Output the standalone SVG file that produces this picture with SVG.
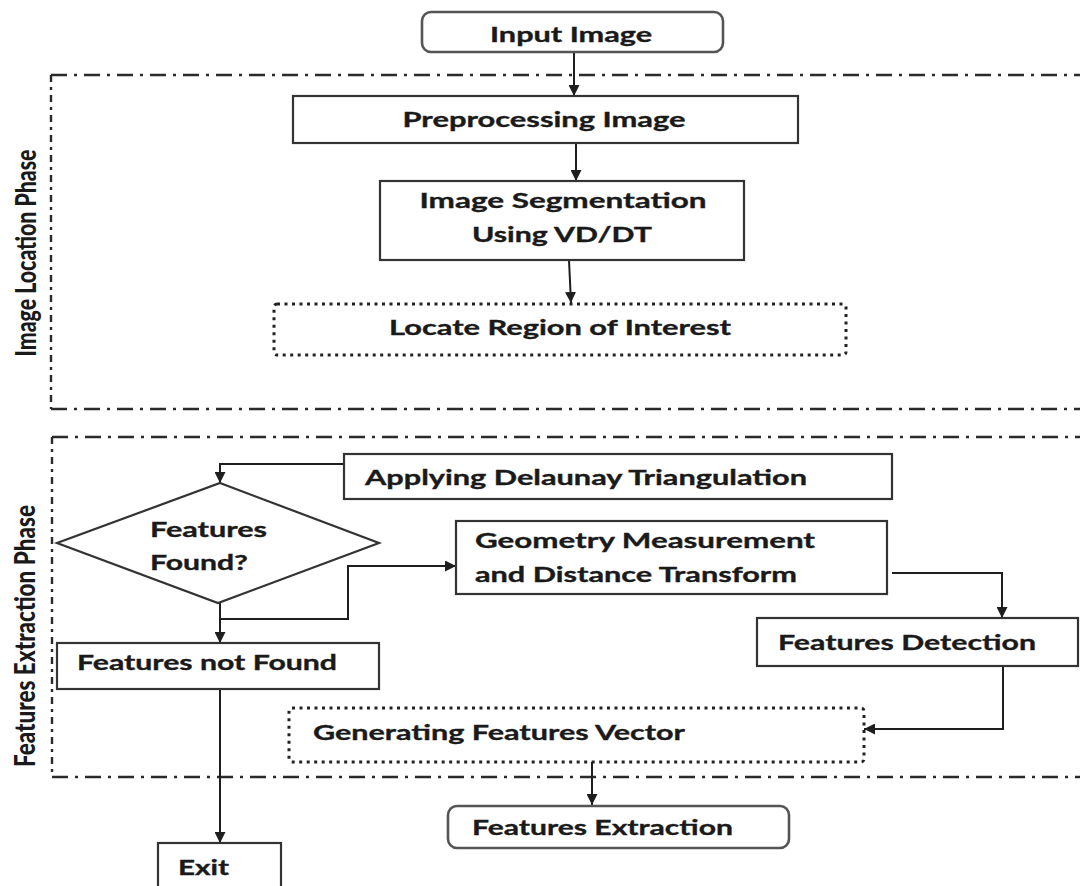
<svg xmlns="http://www.w3.org/2000/svg" width="1080" height="886" viewBox="0 0 1080 886">
  <defs>
    <marker id="arrow" viewBox="0 0 10 10" refX="10" refY="5" markerWidth="11" markerHeight="11" markerUnits="userSpaceOnUse" orient="auto">
      <path d="M0,0 L10,5 L0,10 Z" fill="#1e1e1e"/>
    </marker>
    <style>
      .lbl { font-family: Lato, "Open Sans", "Liberation Sans", sans-serif; font-weight: bold; font-size: 21px; fill: #1a1a1a; stroke: #1a1a1a; stroke-width: 0.35; }
      .phase { font-family: Lato, "Liberation Sans", sans-serif; font-weight: 900; font-size: 28px; fill: #1a1a1a; }
      .box { fill: #ffffff; stroke: #333333; stroke-width: 2.2; }
      .term { fill: #ffffff; stroke: #555555; stroke-width: 2.6; }
      .dotted { fill: #ffffff; stroke: #222222; stroke-width: 3; stroke-dasharray: 3 4.5; }
      .frame-h { fill: none; stroke: #2a2a2a; stroke-width: 2.4; stroke-dasharray: 16 7 3 7; }
      .frame-v { fill: none; stroke: #2a2a2a; stroke-width: 2.4; stroke-dasharray: 7 5 3 5; }
      .conn { fill: none; stroke: #1e1e1e; stroke-width: 2; }
    </style>
  </defs>
  <rect width="1080" height="886" fill="#ffffff"/>

  <!-- phase frames -->
  <g id="phase-location">
    <line class="frame-h" x1="51" y1="75" x2="1080" y2="75"/>
    <line class="frame-h" x1="51" y1="409" x2="1080" y2="409"/>
    <line class="frame-v" x1="51" y1="75" x2="51" y2="409"/>
    <text class="phase" transform="translate(36,253) rotate(-90)" text-anchor="middle" textLength="207" lengthAdjust="spacingAndGlyphs">Image Location Phase</text>
  </g>
  <g id="phase-extraction">
    <line class="frame-h" x1="52" y1="437" x2="1080" y2="437"/>
    <line class="frame-h" x1="52" y1="777" x2="1080" y2="777"/>
    <line class="frame-v" x1="52" y1="437" x2="52" y2="777"/>
    <text class="phase" transform="translate(35,636) rotate(-90)" text-anchor="middle" textLength="262" lengthAdjust="spacingAndGlyphs">Features Extraction Phase</text>
  </g>

  <!-- connectors -->
  <g id="connectors">
    <line class="conn" x1="574" y1="52" x2="574" y2="96" marker-end="url(#arrow)"/>
    <line class="conn" x1="576" y1="143" x2="576" y2="181" marker-end="url(#arrow)"/>
    <line class="conn" x1="569" y1="260" x2="571" y2="303" marker-end="url(#arrow)"/>
    <polyline class="conn" points="344,464 220,464 220,483" marker-end="url(#arrow)"/>
    <line class="conn" x1="220" y1="603" x2="220" y2="643" marker-end="url(#arrow)"/>
    <polyline class="conn" points="220,619 348,619 348,566 456,566" marker-end="url(#arrow)"/>
    <polyline class="conn" points="892,573 1002,573 1002,618" marker-end="url(#arrow)"/>
    <polyline class="conn" points="1003,667 1003,729 864,729" marker-end="url(#arrow)"/>
    <line class="conn" x1="592" y1="762" x2="592" y2="805" marker-end="url(#arrow)"/>
    <line class="conn" x1="220" y1="689" x2="220" y2="843" marker-end="url(#arrow)"/>
  </g>

  <!-- nodes -->
  <g id="input-image">
    <rect class="term" x="422" y="12" width="301" height="40" rx="9"/>
    <text class="lbl" x="571" y="42" text-anchor="middle" textLength="162" lengthAdjust="spacingAndGlyphs">Input Image</text>
  </g>
  <g id="preprocessing">
    <rect class="box" x="293" y="96" width="505" height="47"/>
    <text class="lbl" x="544" y="127" text-anchor="middle" textLength="283" lengthAdjust="spacingAndGlyphs">Preprocessing Image</text>
  </g>
  <g id="segmentation">
    <rect class="box" x="380" y="181" width="364" height="79"/>
    <text class="lbl" x="563" y="208" text-anchor="middle" textLength="287" lengthAdjust="spacingAndGlyphs">Image Segmentation</text>
    <text class="lbl" x="562" y="242" text-anchor="middle" textLength="180" lengthAdjust="spacingAndGlyphs">Using VD/DT</text>
  </g>
  <g id="locate-roi">
    <rect class="dotted" x="274" y="304" width="572" height="51" rx="3"/>
    <text class="lbl" x="560" y="335" text-anchor="middle" textLength="342" lengthAdjust="spacingAndGlyphs">Locate Region of Interest</text>
  </g>
  <g id="delaunay">
    <rect class="box" x="344" y="454" width="548" height="45"/>
    <text class="lbl" x="365" y="485" textLength="442" lengthAdjust="spacingAndGlyphs">Applying Delaunay Triangulation</text>
  </g>
  <g id="features-found">
    <polygon class="box" points="220,483 379,543 218,603 57,543"/>
    <text class="lbl" x="150" y="537" textLength="117" lengthAdjust="spacingAndGlyphs">Features</text>
    <text class="lbl" x="150" y="570" textLength="98" lengthAdjust="spacingAndGlyphs">Found?</text>
  </g>
  <g id="geometry">
    <rect class="box" x="456" y="521" width="431" height="73"/>
    <text class="lbl" x="475" y="548" textLength="340" lengthAdjust="spacingAndGlyphs">Geometry Measurement</text>
    <text class="lbl" x="475" y="582" textLength="322" lengthAdjust="spacingAndGlyphs">and Distance Transform</text>
  </g>
  <g id="features-not-found">
    <rect class="box" x="57" y="643" width="322" height="46"/>
    <text class="lbl" x="77" y="670" textLength="260" lengthAdjust="spacingAndGlyphs">Features not Found</text>
  </g>
  <g id="features-detection">
    <rect class="box" x="757" y="618" width="321" height="48"/>
    <text class="lbl" x="778" y="650" textLength="258" lengthAdjust="spacingAndGlyphs">Features Detection</text>
  </g>
  <g id="features-vector">
    <rect class="dotted" x="289" y="708" width="575" height="54" rx="3"/>
    <text class="lbl" x="313" y="740" textLength="372" lengthAdjust="spacingAndGlyphs">Generating Features Vector</text>
  </g>
  <g id="features-extraction">
    <rect class="term" x="448" y="806" width="341" height="42" rx="9"/>
    <text class="lbl" x="472" y="835" textLength="261" lengthAdjust="spacingAndGlyphs">Features Extraction</text>
  </g>
  <g id="exit">
    <rect class="box" x="158" y="843" width="123" height="60"/>
    <text class="lbl" x="178" y="875" textLength="51" lengthAdjust="spacingAndGlyphs">Exit</text>
  </g>
</svg>
